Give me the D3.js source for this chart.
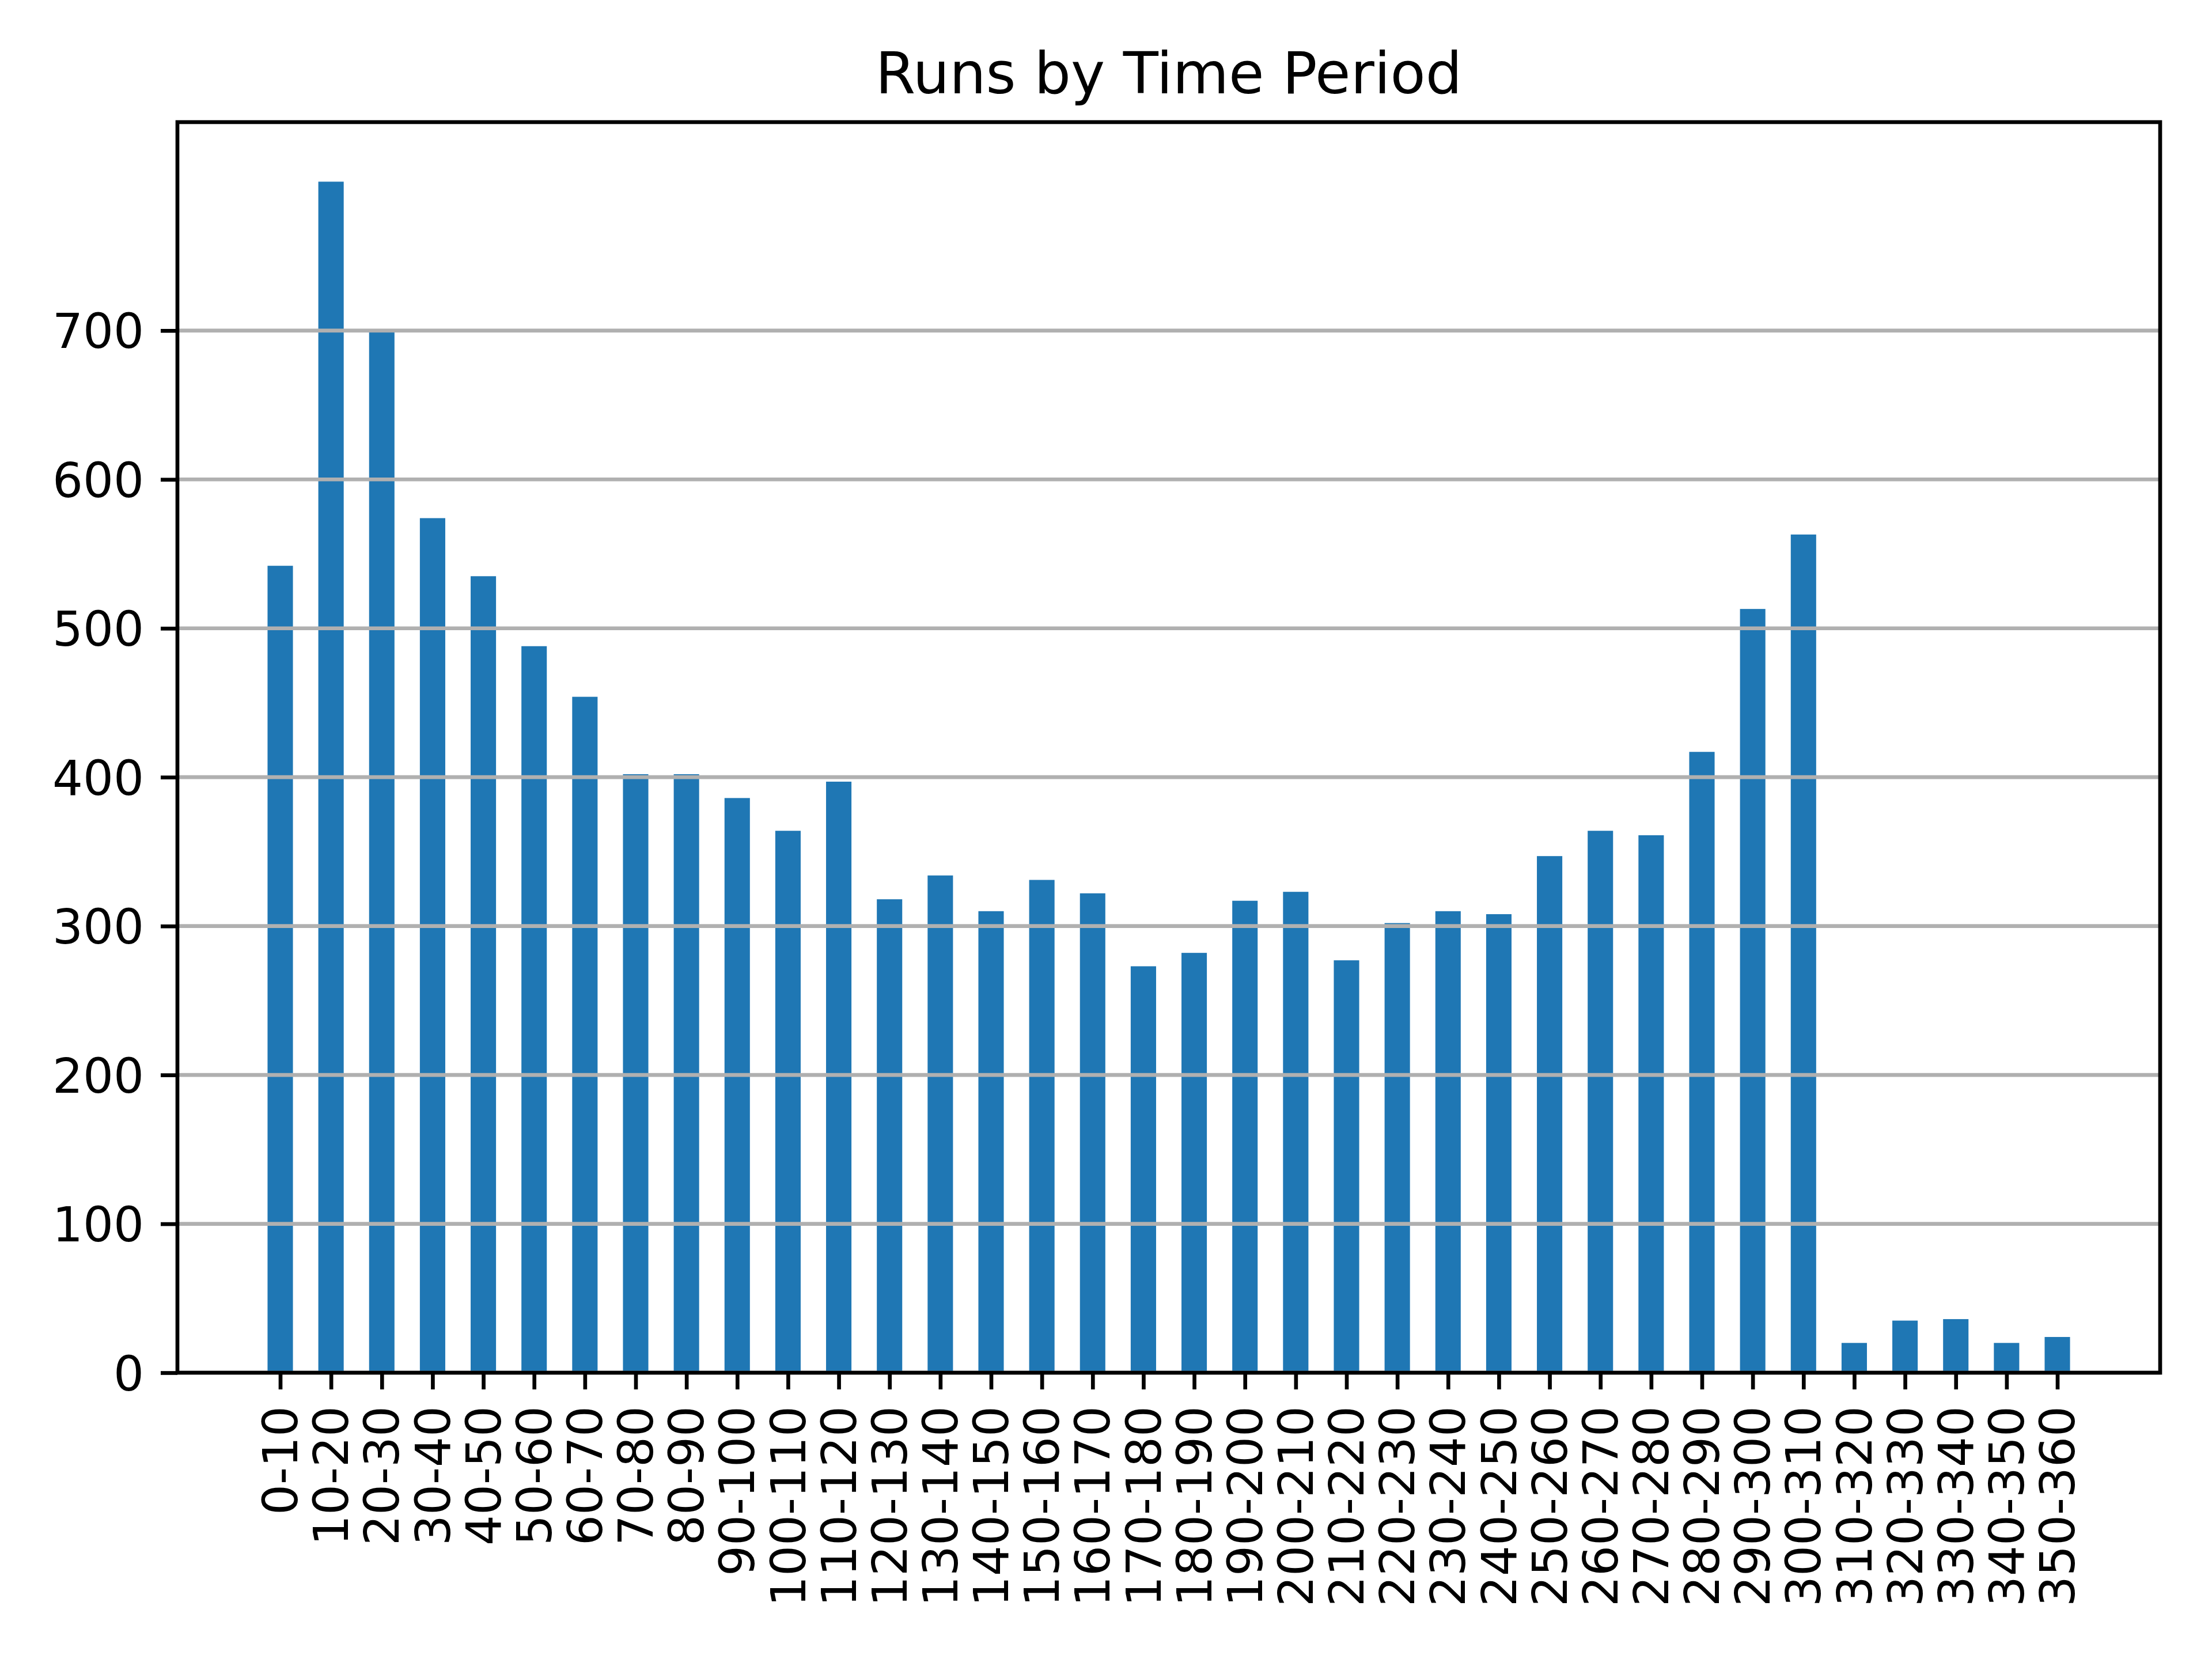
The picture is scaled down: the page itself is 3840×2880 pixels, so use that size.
<!DOCTYPE html>
<html>
<head>
<meta charset="utf-8">
<script src="https://cdn.jsdelivr.net/npm/d3@7"></script>
<style>
  html, body { margin: 0; padding: 0; background: #ffffff; }
  svg { display: block; }
  text { font-family: "DejaVu Sans", sans-serif; fill: #000; }
</style>
</head>
<body>
<div id="chart"></div>
<script>
// ---- data ----
const categories = ["0-10","10-20","20-30","30-40","40-50","50-60","60-70","70-80","80-90","90-100",
  "100-110","110-120","120-130","130-140","140-150","150-160","160-170","170-180","180-190","190-200",
  "200-210","210-220","220-230","230-240","240-250","250-260","260-270","270-280","280-290","290-300",
  "300-310","310-320","320-330","330-340","340-350","350-360"];
const runs = [542, 800, 699, 574, 535, 488, 454, 402, 402, 386,
  364, 397, 318, 334, 310, 331, 322, 273, 282, 317,
  323, 277, 302, 310, 308, 347, 364, 361, 417, 513,
  563, 20, 35, 36, 20, 24];
const yTicks = [0, 100, 200, 300, 400, 500, 600, 700];
const title = "Runs by Time Period";

// ---- layout ----
const W = 3840, H = 2880;
const L = 308, R = 3750, T = 212, B = 2383;
const lw = 6.67;          // 0.8pt at 600 dpi
const tickLen = 29;       // 3.5pt
const pad = 29;           // 3.5pt
const fs = 83.3;          // 10pt
const barW = 0.5;

const svg = d3.select("#chart").append("svg")
  .attr("width", W).attr("height", H)
  .attr("viewBox", `0 0 ${W} ${H}`);
svg.append("rect").attr("width", W).attr("height", H).attr("fill", "#ffffff");

const n = categories.length;
const lo = -barW / 2, hi = n - 1 + barW / 2;
const m = (hi - lo) * 0.05;
const x = d3.scaleLinear().domain([lo - m, hi + m]).range([L, R]);
const yMax = d3.max(runs) * 1.05;
const y = d3.scaleLinear().domain([0, yMax]).range([B, T]);

// bars
svg.append("g").selectAll("rect").data(runs).join("rect")
  .attr("x", (d, i) => x(i - barW / 2))
  .attr("width", (d, i) => x(i + barW / 2) - x(i - barW / 2))
  .attr("y", d => y(d))
  .attr("height", d => y(0) - y(d))
  .attr("fill", "#1f77b4");

// grid (y only), drawn above bars like matplotlib default
svg.append("g").selectAll("line").data(yTicks).join("line")
  .attr("x1", L).attr("x2", R)
  .attr("y1", d => y(d)).attr("y2", d => y(d))
  .attr("stroke", "#b0b0b0").attr("stroke-width", lw);

// y axis
const yAxis = svg.append("g").attr("transform", `translate(${L},0)`)
  .call(d3.axisLeft(y).tickValues(yTicks).tickSize(tickLen).tickPadding(pad).tickFormat(d3.format("d")));
yAxis.select(".domain").remove();
yAxis.selectAll(".tick line").attr("stroke", "#000").attr("stroke-width", lw);
yAxis.selectAll(".tick text")
  .attr("font-size", fs).attr("font-family", "DejaVu Sans, sans-serif")
  .attr("dy", "0.36em").attr("fill", "#000");

// x axis
const xAxis = svg.append("g").attr("transform", `translate(0,${B})`)
  .call(d3.axisBottom(x).tickValues(d3.range(n)).tickSize(tickLen).tickFormat(i => categories[i]));
xAxis.select(".domain").remove();
xAxis.selectAll(".tick line").attr("stroke", "#000").attr("stroke-width", lw);
xAxis.selectAll(".tick text")
  .attr("font-size", fs).attr("font-family", "DejaVu Sans, sans-serif")
  .attr("x", 0).attr("y", 0).attr("dy", "0.35em")
  .attr("text-anchor", "end")
  .attr("transform", `translate(0,${tickLen + pad}) rotate(-90)`)
  .attr("fill", "#000");

// spines
svg.append("rect")
  .attr("x", L).attr("y", T).attr("width", R - L).attr("height", B - T)
  .attr("fill", "none").attr("stroke", "#000").attr("stroke-width", lw)
  .attr("stroke-linejoin", "miter");

// title
svg.append("text")
  .attr("x", (L + R) / 2).attr("y", T - 50)
  .attr("text-anchor", "middle")
  .attr("font-size", 100)
  .text(title);
</script>
</body>
</html>
